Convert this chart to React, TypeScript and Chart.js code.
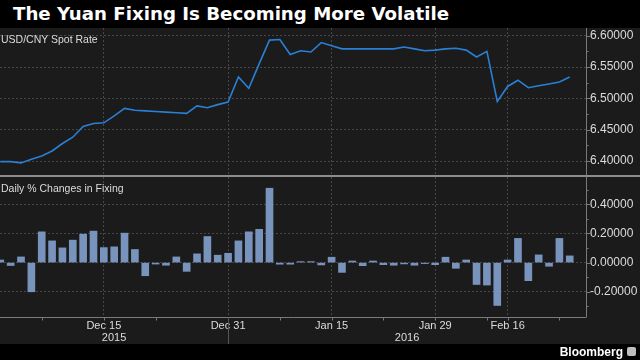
import React, { useEffect, useRef } from "react";
import { Chart, registerables } from "chart.js";

Chart.register(...registerables);

// ---- Data ----
const dates = [
  "2015-12-01", "2015-12-02", "2015-12-03", "2015-12-04", "2015-12-07", "2015-12-08", "2015-12-09",
  "2015-12-10", "2015-12-11", "2015-12-14", "2015-12-15", "2015-12-16", "2015-12-17", "2015-12-18",
  "2015-12-21", "2015-12-22", "2015-12-23", "2015-12-24", "2015-12-25", "2015-12-28", "2015-12-29",
  "2015-12-30", "2015-12-31", "2016-01-04", "2016-01-05", "2016-01-06", "2016-01-07", "2016-01-08",
  "2016-01-11", "2016-01-12", "2016-01-13", "2016-01-14", "2016-01-15", "2016-01-18", "2016-01-19",
  "2016-01-20", "2016-01-21", "2016-01-22", "2016-01-25", "2016-01-26", "2016-01-27", "2016-01-28",
  "2016-01-29", "2016-02-01", "2016-02-02", "2016-02-03", "2016-02-04", "2016-02-05", "2016-02-15",
  "2016-02-16", "2016-02-17", "2016-02-18", "2016-02-19", "2016-02-22", "2016-02-23", "2016-02-24",
];

const spotRate = [
  6.399, 6.399, 6.397, 6.403, 6.408, 6.416, 6.428, 6.438, 6.455, 6.460, 6.461, 6.472, 6.484, 6.481,
  6.480, 6.479, 6.478, 6.477, 6.476, 6.488, 6.485, 6.490, 6.494, 6.534, 6.516, 6.555, 6.593, 6.594,
  6.570, 6.576, 6.574, 6.589, 6.584, 6.579, 6.579, 6.579, 6.579, 6.579, 6.579, 6.582, 6.579, 6.576,
  6.577, 6.579, 6.580, 6.577, 6.566, 6.575, 6.495, 6.519, 6.529, 6.517, 6.520, 6.523, 6.526, 6.534,
];

const fixingChange = [
  0.018, -0.020, 0.039, -0.200, 0.211, 0.149, 0.101, 0.154, 0.195, 0.216, 0.103, 0.108, 0.202, 0.090,
  -0.090, -0.010, -0.018, 0.039, -0.060, 0.060, 0.179, 0.051, 0.064, 0.149, 0.211, 0.228, 0.510, -0.011,
  -0.011, 0.004, 0.004, -0.016, 0.037, -0.067, 0.011, -0.021, 0.011, -0.014, -0.018, -0.009, -0.018, -0.005,
  -0.014, 0.037, -0.039, 0.018, -0.150, -0.154, -0.294, 0.018, 0.166, -0.124, 0.053, -0.025, 0.166, 0.046,
];

const majorTickDates = ["2015-12-15", "2015-12-31", "2016-01-15", "2016-01-29", "2016-02-16"];
const majorTickLabels = ["Dec 15", "Dec 31", "Jan 15", "Jan 29", "Feb 16"];
const minorTickDates = ["2015-12-07", "2015-12-22", "2016-01-08", "2016-01-22", "2016-02-05", "2016-02-23"];
const yearLabels = ["2015", "2016"];
const yearEndDate = "2015-12-31";

const spotTicks = [6.4, 6.45, 6.5, 6.55, 6.6];
const spotMinorTicks = [6.375, 6.425, 6.475, 6.525, 6.575];
const changeTicks = [-0.2, 0, 0.2, 0.4];
const changeMinorTicks = [-0.3, -0.1, 0.1, 0.3, 0.5];

const TITLE = "The Yuan Fixing Is Becoming More Volatile";
const TOP_LABEL = "USD/CNY Spot Rate";
const BOTTOM_LABEL = "Daily % Changes in Fixing";

// ---- Styling ----
const FONT = "'Liberation Sans', Arial, sans-serif";
const TITLE_FONT = "'DejaVu Sans', 'Liberation Sans', sans-serif";
const GRID = "#474747";
const AXIS = "#7a7a7a";
const TEXT = "#dcdcdc";
const X_MIN = -0.03;
const X_MAX = 56.57;

const near = (list: number[], v: number) => list.some((t) => Math.abs(t - v) < 1e-6);

function zeroPad(s: any) {
  s.paddingTop = 0;
  s.paddingBottom = 0;
  s.paddingLeft = 0;
  s.paddingRight = 0;
}

function makeDeco(majors: number[], minors: number[], bottom: boolean, majorIdx: number[], minorIdx: number[], yearEndIdx: number) {
  return {
    id: "deco",
    afterDraw(chart: any) {
      const { ctx, chartArea } = chart;
      const xs = chart.scales.x;
      const ys = chart.scales.y;
      const r = Math.round(chartArea.right) + 0.5;
      ctx.save();
      ctx.strokeStyle = AXIS;
      ctx.lineWidth = 1;
      ctx.setLineDash([]);
      // right axis line
      ctx.beginPath();
      ctx.moveTo(r, 0);
      ctx.lineTo(r, bottom ? Math.round(chartArea.bottom) : chart.height);
      ctx.stroke();
      // y ticks
      majors.forEach((v) => {
        const y = Math.round(ys.getPixelForValue(v)) + 0.5;
        ctx.beginPath();
        ctx.moveTo(r, y);
        ctx.lineTo(r + 4, y);
        ctx.stroke();
      });
      minors.forEach((v) => {
        const y = Math.round(ys.getPixelForValue(v)) + 0.5;
        if (y < 0 || y > chart.height) return;
        ctx.beginPath();
        ctx.moveTo(r, y);
        ctx.lineTo(r + 2, y);
        ctx.stroke();
      });
      if (bottom) {
        const b = Math.round(chartArea.bottom) + 0.5;
        ctx.beginPath();
        ctx.moveTo(0, b);
        ctx.lineTo(r, b);
        ctx.stroke();
        [...majorIdx, ...minorIdx].forEach((i) => {
          const x = Math.round(xs.getPixelForValue(i)) + 0.5;
          ctx.beginPath();
          ctx.moveTo(x, b);
          ctx.lineTo(x, b + 3);
          ctx.stroke();
        });
        // year separator
        const sx = Math.round(xs.getPixelForValue(yearEndIdx)) + 0.5;
        ctx.strokeStyle = "#555555";
        ctx.beginPath();
        ctx.moveTo(sx, b);
        ctx.lineTo(sx, chart.height);
        ctx.stroke();
        // year labels
        ctx.fillStyle = TEXT;
        ctx.font = `11px ${FONT}`;
        ctx.textAlign = "center";
        ctx.textBaseline = "middle";
        const c1 = (xs.getPixelForValue(X_MIN) + xs.getPixelForValue(yearEndIdx)) / 2;
        const c2 = (xs.getPixelForValue(yearEndIdx) + xs.getPixelForValue(X_MAX)) / 2;
        ctx.fillText(yearLabels[0], c1, chart.height - 6);
        ctx.fillText(yearLabels[1], c2, chart.height - 6);
      }
      ctx.restore();
    },
  };
}

export default function App() {
  const topRef = useRef<HTMLCanvasElement>(null);
  const botRef = useRef<HTMLCanvasElement>(null);

  useEffect(() => {
    const idx = (d: string) => dates.indexOf(d);
    const majorIdx = majorTickDates.map(idx);
    const minorIdx = minorTickDates.map(idx);
    const yearEndIdx = idx(yearEndDate);

    const xScale = (labels: boolean): any => ({
      type: "linear",
      min: X_MIN,
      max: X_MAX,
      offset: false,
      afterBuildTicks: (s: any) => {
        const vals = labels ? [...majorIdx, ...minorIdx].sort((a, b) => a - b) : majorIdx;
        s.ticks = vals.map((v) => ({ value: v }));
      },
      grid: {
        offset: false,
        drawTicks: false,
        lineWidth: 1,
        color: (c: any) => (c.tick && majorIdx.includes(c.tick.value) ? GRID : "rgba(0,0,0,0)"),
      },
      border: { display: false, dash: [2, 2] },
      ticks: {
        display: labels,
        autoSkip: false,
        maxRotation: 0,
        minRotation: 0,
        padding: 2,
        color: TEXT,
        font: { family: FONT, size: 11 },
        callback: (v: any) => {
          const i = majorIdx.indexOf(v);
          return i >= 0 ? majorTickLabels[i] : "";
        },
      },
      afterFit: (s: any) => {
        s.height = labels ? 27 : 0;
        zeroPad(s);
      },
    });

    const yScale = (min: number, max: number, majors: number[], minors: number[]): any => ({
      type: "linear",
      position: "right",
      min,
      max,
      afterBuildTicks: (s: any) => {
        s.ticks = [...minors, ...majors].sort((a, b) => a - b).map((v) => ({ value: v }));
      },
      grid: {
        drawTicks: false,
        lineWidth: 1,
        color: (c: any) => (c.tick && near(majors, c.tick.value) ? GRID : "rgba(0,0,0,0)"),
      },
      border: { display: false, dash: [2, 2] },
      ticks: {
        autoSkip: false,
        padding: 4,
        color: TEXT,
        font: { family: FONT, size: 12 },
        callback: (v: any) => (near(majors, v) ? Number(v).toFixed(5) : ""),
      },
      afterFit: (s: any) => {
        s.width = 54;
        zeroPad(s);
      },
    });

    const common: any = {
      responsive: false,
      maintainAspectRatio: false,
      animation: false,
      devicePixelRatio: 1,
      layout: { padding: 0, autoPadding: false },
      plugins: { legend: { display: false }, tooltip: { enabled: false } },
    };

    const top = new Chart(topRef.current!, {
      type: "line",
      data: {
        datasets: [
          {
            data: spotRate.map((v, i) => ({ x: i, y: v })),
            borderColor: "#2a7fd6",
            borderWidth: 1.6,
            pointRadius: 0,
            tension: 0,
            fill: false,
          },
        ],
      },
      options: {
        ...common,
        scales: {
          x: xScale(false),
          y: yScale(6.3761, 6.6123, spotTicks, spotMinorTicks),
        },
      },
      plugins: [makeDeco(spotTicks, spotMinorTicks, false, majorIdx, minorIdx, yearEndIdx)],
    } as any);

    const bot = new Chart(botRef.current!, {
      type: "bar",
      data: {
        datasets: [
          {
            data: fixingChange.map((v, i) => ({ x: i, y: v })),
            backgroundColor: "#7893bc",
            borderWidth: 0,
            barThickness: 7,
            minBarLength: 1,
          },
        ],
      },
      options: {
        ...common,
        scales: {
          x: xScale(true),
          y: yScale(-0.373, 0.587, changeTicks, changeMinorTicks),
        },
      },
      plugins: [makeDeco(changeTicks, changeMinorTicks, true, majorIdx, minorIdx, yearEndIdx)],
    } as any);

    return () => {
      top.destroy();
      bot.destroy();
    };
  }, []);

  return (
    <div
      style={{
        position: "fixed",
        left: 0,
        top: 0,
        width: 640,
        height: 360,
        background: "#000",
        overflow: "hidden",
        fontFamily: FONT,
      }}
    >
      <div
        style={{
          position: "absolute",
          left: 13,
          top: 0,
          height: 28,
          lineHeight: "28px",
          color: "#fff",
          fontWeight: "bold",
          fontSize: 18.2,
          fontFamily: TITLE_FONT,
          whiteSpace: "nowrap",
        }}
      >
        {TITLE}
      </div>
      <div style={{ position: "absolute", left: 0, top: 28, width: 640, height: 316, background: "#1b1b1b" }} />
      <canvas
        ref={topRef}
        width={640}
        height={148}
        style={{ position: "absolute", left: 0, top: 28, width: 640, height: 148 }}
      />
      <div style={{ position: "absolute", left: 0, top: 175, width: 640, height: 2, background: "#8c8c8c" }} />
      <canvas
        ref={botRef}
        width={640}
        height={167}
        style={{ position: "absolute", left: 0, top: 177, width: 640, height: 167 }}
      />
      <div
        style={{
          position: "absolute",
          left: 1,
          top: 33,
          fontSize: 10.5,
          lineHeight: "12px",
          color: TEXT,
          whiteSpace: "nowrap",
        }}
      >
        {TOP_LABEL}
      </div>
      <div
        style={{
          position: "absolute",
          left: 1,
          top: 182,
          fontSize: 10.5,
          lineHeight: "12px",
          color: TEXT,
          whiteSpace: "nowrap",
        }}
      >
        {BOTTOM_LABEL}
      </div>
      <div
        style={{
          position: "absolute",
          right: 17,
          top: 344,
          height: 16,
          lineHeight: "16px",
          fontSize: 12,
          fontWeight: "bold",
          color: "#fff",
          whiteSpace: "nowrap",
        }}
      >
        Bloomberg
      </div>
      <div
        style={{
          position: "absolute",
          left: 627,
          top: 347,
          width: 9,
          height: 9,
          borderRadius: 2,
          background: "#bdbdbd",
        }}
      />
    </div>
  );
}
